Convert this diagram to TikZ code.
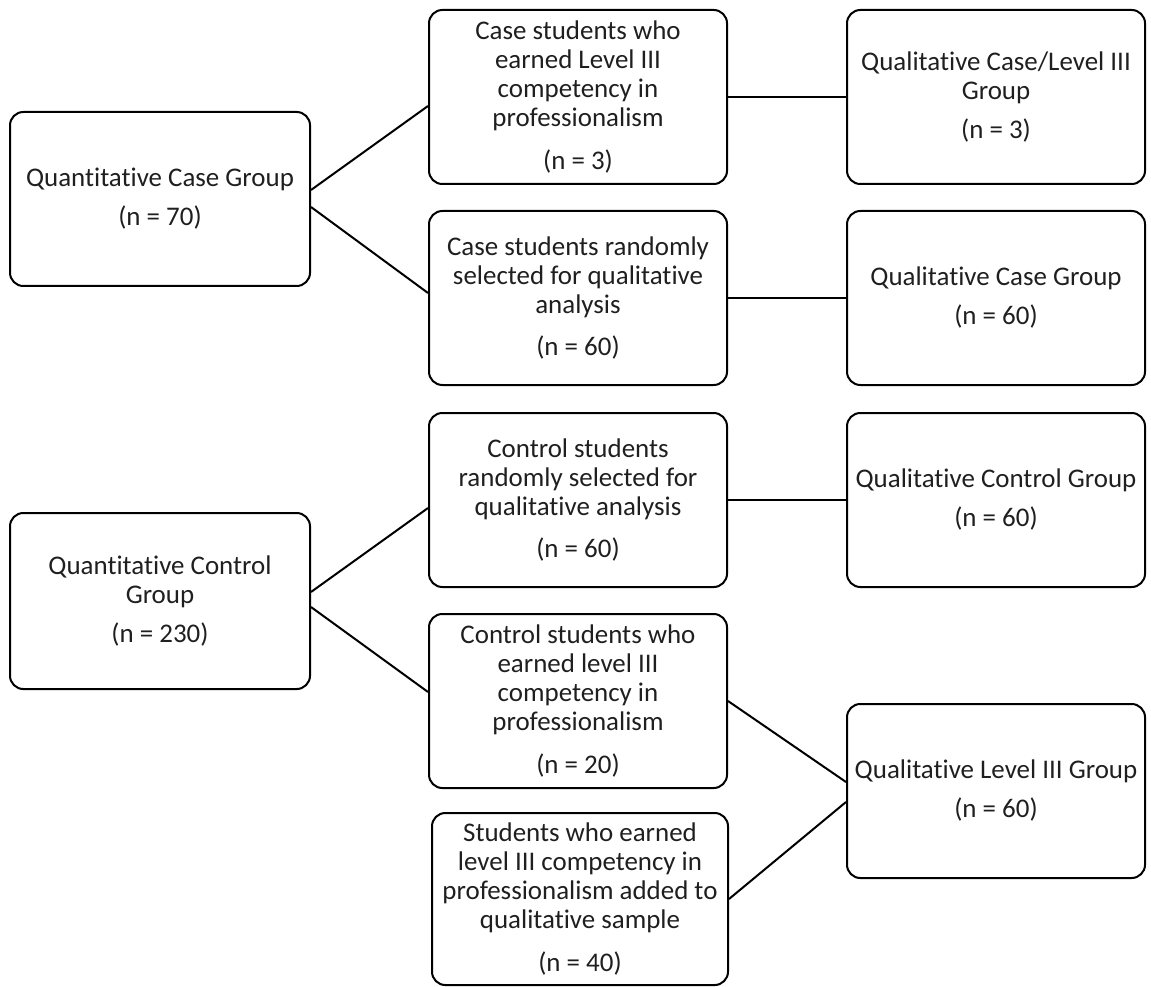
\documentclass[tikz,border=0pt]{standalone}
\usepackage{fontspec}
\setmainfont{Carlito}[Ligatures={NoCommon},RawFeature={-liga;-clig}]
\usetikzlibrary{calc}
\tikzset{
  box/.style={draw=black, line width=1.5pt, rounded corners=10pt, align=center,
    minimum width=223.5pt, minimum height=130.5pt, inner sep=0pt,
    font=\fontsize{20.2}{21.75}\selectfont, text=black!88},
  conn/.style={draw=black, line width=1.5pt}
}
\begin{document}
\begin{tikzpicture}[x=0.75pt,y=-0.75pt]
\useasboundingbox (0,0) rectangle (1151,987);
\node[box, minimum width=225pt] (b1) at (160,199) {Quantitative Case Group\\[7.5pt](n = 70)};
\node[box] (b2) at (578,97) {Case students who\\earned Level III\\competency in\\professionalism\\[10pt](n = 3)};
\node[box] (b3) at (996,97) {Qualitative Case/Level III\\Group\\[7.5pt](n = 3)};
\node[box] (b4) at (578,298) {Case students randomly\\selected for qualitative\\analysis\\[10pt](n = 60)};
\node[box] (b5) at (996,298) {Qualitative Case Group\\[7.5pt](n = 60)};
\node[box] (b6) at (578,500) {Control students\\randomly selected for\\qualitative analysis\\[10pt](n = 60)};
\node[box] (b7) at (996,500) {Qualitative Control Group\\[7.5pt](n = 60)};
\node[box, minimum width=225pt, minimum height=132pt] (b8) at (160,601) {Quantitative Control\\Group\\[7.5pt](n = 230)};
\node[box] (b9) at (578,701) {Control students who\\earned level III\\competency in\\professionalism\\[10pt](n = 20)};
\node[box] (b10) at (996,791) {Qualitative Level III Group\\[7.5pt](n = 60)};
\node[box, minimum width=222pt, minimum height=129pt] (b11) at (580,899) {Students who earned\\level III competency in\\professionalism added to\\qualitative sample\\[10pt](n = 40)};
\draw[conn] ($(b1.east)+(0,-9)$) -- ($(b2.west)+(0,9)$);
\draw[conn] ($(b1.east)+(0,8)$) -- ($(b4.west)+(0,-5)$);
\draw[conn] (b2.east) -- (b3.west);
\draw[conn] (b4.east) -- (b5.west);
\draw[conn] (b6.east) -- (b7.west);
\draw[conn] ($(b8.east)+(0,-9)$) -- ($(b6.west)+(0,8)$);
\draw[conn] ($(b8.east)+(0,6)$) -- ($(b9.west)+(0,-9)$);
\draw[conn] (b9.east) -- ($(b10.west)+(0,-9)$);
\draw[conn] (b11.east) -- ($(b10.west)+(0,11)$);
\end{tikzpicture}
\end{document}
